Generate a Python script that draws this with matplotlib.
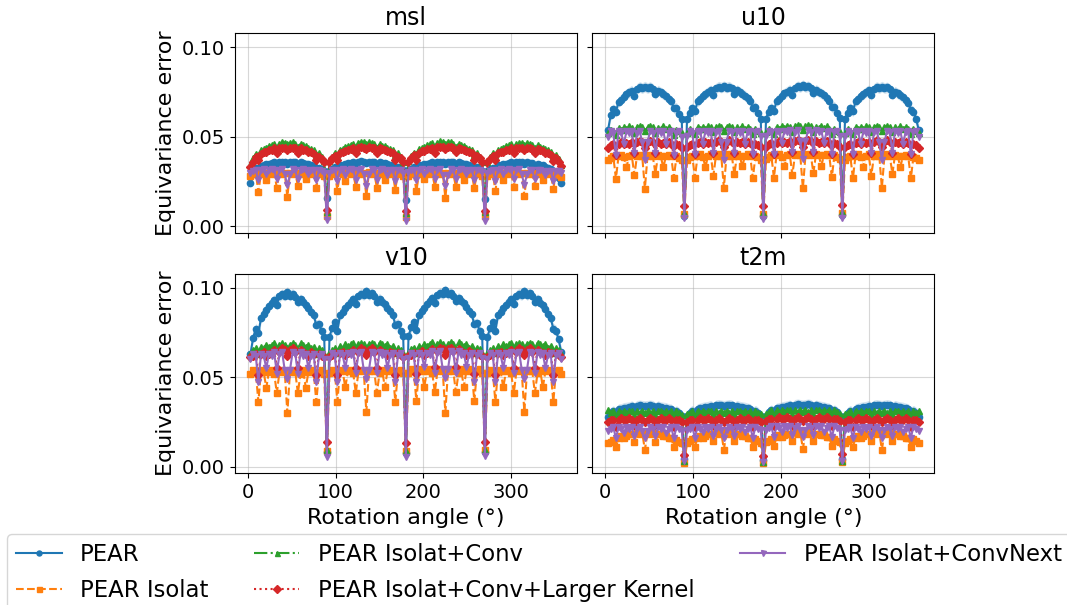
import numpy as np
import matplotlib.pyplot as plt

# rotation angles, 3 deg steps
angles = list(range(3, 360, 3))

labels = ["PEAR", "PEAR Isolat", "PEAR Isolat+Conv",
          "PEAR Isolat+Conv+Larger Kernel", "PEAR Isolat+ConvNext"]
variables = ["msl", "u10", "v10", "t2m"]

# ---- msl ----
msl_pear = [
    0.0240, 0.0290, 0.0325, 0.0318, 0.0338, 0.0342, 0.0348, 0.0350, 0.0352, 0.0360, 0.0340, 0.0360, 0.0362, 0.0360, 0.0350,
    0.0360, 0.0362, 0.0358, 0.0340, 0.0358, 0.0352, 0.0350, 0.0348, 0.0340, 0.0338, 0.0320, 0.0328, 0.0320, 0.0310,
    0.0160,
    0.0310, 0.0322, 0.0332, 0.0318, 0.0342, 0.0345, 0.0350, 0.0352, 0.0355, 0.0362, 0.0338, 0.0362, 0.0365, 0.0362, 0.0352,
    0.0362, 0.0360, 0.0358, 0.0342, 0.0360, 0.0355, 0.0352, 0.0348, 0.0342, 0.0340, 0.0322, 0.0332, 0.0322, 0.0312,
    0.0150,
    0.0312, 0.0320, 0.0330, 0.0322, 0.0340, 0.0342, 0.0348, 0.0350, 0.0355, 0.0358, 0.0340, 0.0360, 0.0362, 0.0360, 0.0350,
    0.0360, 0.0362, 0.0358, 0.0340, 0.0358, 0.0352, 0.0350, 0.0348, 0.0340, 0.0338, 0.0320, 0.0330, 0.0320, 0.0310,
    0.0155,
    0.0310, 0.0320, 0.0328, 0.0320, 0.0340, 0.0342, 0.0350, 0.0350, 0.0352, 0.0360, 0.0338, 0.0358, 0.0362, 0.0360, 0.0348,
    0.0358, 0.0356, 0.0352, 0.0336, 0.0350, 0.0344, 0.0340, 0.0334, 0.0326, 0.0318, 0.0300, 0.0292, 0.0272, 0.0240,
]
msl_isolat = [
    0.0280, 0.0290, 0.0300, 0.0192, 0.0300, 0.0292, 0.0260, 0.0300, 0.0292, 0.0300, 0.0217, 0.0300, 0.0292, 0.0300, 0.0164,
    0.0300, 0.0292, 0.0300, 0.0226, 0.0300, 0.0292, 0.0262, 0.0300, 0.0292, 0.0300, 0.0217, 0.0300, 0.0290, 0.0280,
    0.0060,
    0.0282, 0.0292, 0.0302, 0.0200, 0.0298, 0.0290, 0.0255, 0.0302, 0.0295, 0.0298, 0.0220, 0.0302, 0.0290, 0.0298, 0.0170,
    0.0302, 0.0295, 0.0300, 0.0215, 0.0298, 0.0292, 0.0258, 0.0302, 0.0290, 0.0298, 0.0205, 0.0300, 0.0292, 0.0282,
    0.0055,
    0.0280, 0.0290, 0.0300, 0.0195, 0.0300, 0.0292, 0.0262, 0.0300, 0.0290, 0.0300, 0.0222, 0.0300, 0.0292, 0.0300, 0.0160,
    0.0300, 0.0292, 0.0298, 0.0220, 0.0300, 0.0290, 0.0260, 0.0300, 0.0292, 0.0300, 0.0212, 0.0300, 0.0290, 0.0280,
    0.0060,
    0.0280, 0.0292, 0.0300, 0.0198, 0.0300, 0.0290, 0.0258, 0.0300, 0.0292, 0.0298, 0.0218, 0.0300, 0.0290, 0.0300, 0.0168,
    0.0300, 0.0292, 0.0300, 0.0224, 0.0300, 0.0292, 0.0260, 0.0298, 0.0290, 0.0300, 0.0210, 0.0298, 0.0288, 0.0278,
]
msl_conv = [
    0.0340, 0.0380, 0.0405, 0.0395, 0.0425, 0.0430, 0.0440, 0.0448, 0.0452, 0.0460, 0.0440, 0.0462, 0.0470, 0.0468, 0.0458,
    0.0468, 0.0470, 0.0462, 0.0442, 0.0460, 0.0452, 0.0448, 0.0440, 0.0430, 0.0428, 0.0400, 0.0410, 0.0390, 0.0365,
    0.0080,
    0.0365, 0.0390, 0.0410, 0.0400, 0.0428, 0.0432, 0.0442, 0.0450, 0.0455, 0.0462, 0.0442, 0.0465, 0.0472, 0.0470, 0.0460,
    0.0470, 0.0468, 0.0460, 0.0440, 0.0458, 0.0450, 0.0448, 0.0438, 0.0430, 0.0425, 0.0398, 0.0408, 0.0388, 0.0362,
    0.0075,
    0.0365, 0.0392, 0.0412, 0.0402, 0.0430, 0.0435, 0.0445, 0.0452, 0.0458, 0.0465, 0.0445, 0.0468, 0.0475, 0.0472, 0.0462,
    0.0472, 0.0470, 0.0462, 0.0442, 0.0460, 0.0452, 0.0450, 0.0440, 0.0432, 0.0428, 0.0400, 0.0410, 0.0390, 0.0365,
    0.0078,
    0.0362, 0.0388, 0.0408, 0.0398, 0.0425, 0.0430, 0.0440, 0.0448, 0.0452, 0.0460, 0.0440, 0.0462, 0.0468, 0.0465, 0.0455,
    0.0465, 0.0462, 0.0455, 0.0438, 0.0452, 0.0445, 0.0440, 0.0432, 0.0425, 0.0418, 0.0392, 0.0398, 0.0375, 0.0340,
]
msl_kernel = [
    0.0330, 0.0360, 0.0385, 0.0368, 0.0405, 0.0415, 0.0418, 0.0425, 0.0428, 0.0435, 0.0408, 0.0438, 0.0440, 0.0438, 0.0428,
    0.0440, 0.0438, 0.0435, 0.0410, 0.0435, 0.0428, 0.0425, 0.0418, 0.0415, 0.0405, 0.0372, 0.0390, 0.0378, 0.0360,
    0.0090,
    0.0360, 0.0380, 0.0395, 0.0370, 0.0410, 0.0418, 0.0420, 0.0428, 0.0430, 0.0438, 0.0410, 0.0440, 0.0442, 0.0440, 0.0430,
    0.0442, 0.0440, 0.0436, 0.0412, 0.0436, 0.0430, 0.0426, 0.0420, 0.0416, 0.0408, 0.0370, 0.0390, 0.0380, 0.0360,
    0.0085,
    0.0362, 0.0382, 0.0398, 0.0372, 0.0412, 0.0420, 0.0422, 0.0430, 0.0432, 0.0440, 0.0412, 0.0442, 0.0445, 0.0442, 0.0432,
    0.0445, 0.0442, 0.0438, 0.0414, 0.0438, 0.0432, 0.0428, 0.0422, 0.0418, 0.0410, 0.0372, 0.0392, 0.0382, 0.0362,
    0.0088,
    0.0360, 0.0378, 0.0395, 0.0370, 0.0408, 0.0415, 0.0418, 0.0425, 0.0428, 0.0435, 0.0408, 0.0436, 0.0440, 0.0436, 0.0426,
    0.0438, 0.0435, 0.0430, 0.0408, 0.0430, 0.0424, 0.0420, 0.0412, 0.0408, 0.0400, 0.0365, 0.0380, 0.0362, 0.0335,
]
msl_convnext = [
    0.0300, 0.0310, 0.0312, 0.0258, 0.0312, 0.0318, 0.0290, 0.0312, 0.0318, 0.0312, 0.0262, 0.0312, 0.0318, 0.0290, 0.0230,
    0.0290, 0.0318, 0.0312, 0.0262, 0.0312, 0.0318, 0.0312, 0.0290, 0.0312, 0.0312, 0.0258, 0.0312, 0.0310, 0.0300,
    0.0035,
    0.0300, 0.0312, 0.0315, 0.0255, 0.0312, 0.0320, 0.0288, 0.0315, 0.0320, 0.0312, 0.0260, 0.0315, 0.0320, 0.0292, 0.0225,
    0.0292, 0.0320, 0.0315, 0.0260, 0.0315, 0.0320, 0.0312, 0.0288, 0.0315, 0.0312, 0.0255, 0.0315, 0.0312, 0.0300,
    0.0030,
    0.0302, 0.0312, 0.0312, 0.0260, 0.0315, 0.0318, 0.0292, 0.0312, 0.0320, 0.0315, 0.0265, 0.0312, 0.0318, 0.0288, 0.0228,
    0.0288, 0.0318, 0.0312, 0.0265, 0.0312, 0.0318, 0.0315, 0.0292, 0.0312, 0.0315, 0.0260, 0.0312, 0.0312, 0.0302,
    0.0032,
    0.0300, 0.0310, 0.0312, 0.0256, 0.0312, 0.0318, 0.0290, 0.0312, 0.0318, 0.0312, 0.0262, 0.0312, 0.0318, 0.0290, 0.0232,
    0.0290, 0.0316, 0.0312, 0.0262, 0.0312, 0.0316, 0.0310, 0.0288, 0.0310, 0.0310, 0.0256, 0.0310, 0.0308, 0.0298,
]

# ---- u10 ----
u10_pear = [
    0.0537, 0.0620, 0.0655, 0.0640, 0.0695, 0.0708, 0.0725, 0.0738, 0.0748, 0.0758, 0.0730, 0.0768, 0.0778, 0.0772, 0.0780,
    0.0772, 0.0778, 0.0768, 0.0738, 0.0758, 0.0748, 0.0738, 0.0728, 0.0712, 0.0698, 0.0660, 0.0662, 0.0630, 0.0600,
    0.0060,
    0.0600, 0.0635, 0.0660, 0.0642, 0.0698, 0.0710, 0.0728, 0.0740, 0.0750, 0.0760, 0.0732, 0.0770, 0.0780, 0.0775, 0.0782,
    0.0775, 0.0780, 0.0770, 0.0740, 0.0760, 0.0750, 0.0740, 0.0730, 0.0715, 0.0700, 0.0662, 0.0665, 0.0632, 0.0602,
    0.0058,
    0.0602, 0.0638, 0.0662, 0.0645, 0.0700, 0.0712, 0.0730, 0.0742, 0.0752, 0.0762, 0.0735, 0.0772, 0.0782, 0.0778, 0.0788,
    0.0778, 0.0782, 0.0772, 0.0742, 0.0762, 0.0752, 0.0742, 0.0732, 0.0718, 0.0702, 0.0665, 0.0668, 0.0635, 0.0605,
    0.0062,
    0.0600, 0.0635, 0.0660, 0.0642, 0.0698, 0.0710, 0.0726, 0.0738, 0.0750, 0.0760, 0.0732, 0.0768, 0.0778, 0.0772, 0.0780,
    0.0772, 0.0776, 0.0766, 0.0736, 0.0752, 0.0742, 0.0732, 0.0720, 0.0705, 0.0690, 0.0650, 0.0640, 0.0600, 0.0537,
]
u10_isolat = [
    0.0370, 0.0382, 0.0392, 0.0267, 0.0392, 0.0400, 0.0385, 0.0330, 0.0392, 0.0400, 0.0285, 0.0392, 0.0400, 0.0392, 0.0210,
    0.0392, 0.0400, 0.0392, 0.0295, 0.0400, 0.0392, 0.0330, 0.0392, 0.0400, 0.0392, 0.0270, 0.0392, 0.0382, 0.0372,
    0.0070,
    0.0372, 0.0385, 0.0395, 0.0270, 0.0395, 0.0402, 0.0388, 0.0332, 0.0395, 0.0402, 0.0282, 0.0395, 0.0402, 0.0395, 0.0215,
    0.0395, 0.0402, 0.0395, 0.0290, 0.0402, 0.0395, 0.0335, 0.0395, 0.0402, 0.0395, 0.0268, 0.0395, 0.0385, 0.0372,
    0.0068,
    0.0375, 0.0388, 0.0398, 0.0272, 0.0398, 0.0405, 0.0390, 0.0335, 0.0398, 0.0405, 0.0288, 0.0398, 0.0405, 0.0398, 0.0212,
    0.0398, 0.0405, 0.0398, 0.0298, 0.0405, 0.0398, 0.0338, 0.0398, 0.0405, 0.0398, 0.0275, 0.0398, 0.0388, 0.0375,
    0.0072,
    0.0372, 0.0385, 0.0395, 0.0268, 0.0395, 0.0402, 0.0386, 0.0330, 0.0395, 0.0402, 0.0284, 0.0395, 0.0402, 0.0395, 0.0215,
    0.0395, 0.0402, 0.0395, 0.0292, 0.0400, 0.0392, 0.0332, 0.0392, 0.0400, 0.0392, 0.0268, 0.0390, 0.0380, 0.0370,
]
u10_conv = [
    0.0520, 0.0540, 0.0530, 0.0512, 0.0550, 0.0540, 0.0552, 0.0542, 0.0558, 0.0550, 0.0522, 0.0552, 0.0560, 0.0552, 0.0532,
    0.0552, 0.0560, 0.0552, 0.0522, 0.0550, 0.0542, 0.0558, 0.0542, 0.0552, 0.0540, 0.0512, 0.0540, 0.0530, 0.0520,
    0.0075,
    0.0522, 0.0542, 0.0532, 0.0515, 0.0552, 0.0542, 0.0555, 0.0545, 0.0560, 0.0552, 0.0525, 0.0555, 0.0562, 0.0555, 0.0535,
    0.0555, 0.0562, 0.0555, 0.0525, 0.0552, 0.0545, 0.0560, 0.0545, 0.0555, 0.0542, 0.0515, 0.0542, 0.0532, 0.0522,
    0.0072,
    0.0525, 0.0545, 0.0535, 0.0518, 0.0555, 0.0545, 0.0558, 0.0548, 0.0562, 0.0555, 0.0528, 0.0558, 0.0565, 0.0558, 0.0538,
    0.0558, 0.0565, 0.0558, 0.0528, 0.0555, 0.0548, 0.0562, 0.0548, 0.0558, 0.0545, 0.0518, 0.0545, 0.0535, 0.0525,
    0.0078,
    0.0522, 0.0542, 0.0532, 0.0515, 0.0552, 0.0542, 0.0555, 0.0545, 0.0560, 0.0552, 0.0525, 0.0555, 0.0562, 0.0555, 0.0535,
    0.0555, 0.0562, 0.0555, 0.0525, 0.0552, 0.0545, 0.0560, 0.0545, 0.0555, 0.0542, 0.0515, 0.0542, 0.0532, 0.0522,
]
u10_kernel = [
    0.0440, 0.0452, 0.0460, 0.0400, 0.0462, 0.0470, 0.0460, 0.0468, 0.0462, 0.0470, 0.0410, 0.0470, 0.0478, 0.0470, 0.0440,
    0.0470, 0.0478, 0.0470, 0.0410, 0.0470, 0.0462, 0.0468, 0.0460, 0.0470, 0.0462, 0.0400, 0.0460, 0.0452, 0.0440,
    0.0115,
    0.0442, 0.0455, 0.0462, 0.0402, 0.0465, 0.0472, 0.0462, 0.0470, 0.0465, 0.0472, 0.0412, 0.0472, 0.0480, 0.0472, 0.0442,
    0.0472, 0.0480, 0.0472, 0.0412, 0.0472, 0.0465, 0.0470, 0.0462, 0.0472, 0.0465, 0.0402, 0.0462, 0.0455, 0.0442,
    0.0112,
    0.0445, 0.0458, 0.0465, 0.0405, 0.0468, 0.0475, 0.0465, 0.0472, 0.0468, 0.0475, 0.0415, 0.0475, 0.0482, 0.0475, 0.0445,
    0.0475, 0.0482, 0.0475, 0.0415, 0.0475, 0.0468, 0.0472, 0.0465, 0.0475, 0.0468, 0.0405, 0.0465, 0.0458, 0.0445,
    0.0118,
    0.0442, 0.0455, 0.0462, 0.0402, 0.0465, 0.0472, 0.0462, 0.0470, 0.0465, 0.0472, 0.0412, 0.0472, 0.0480, 0.0472, 0.0442,
    0.0472, 0.0480, 0.0472, 0.0412, 0.0472, 0.0465, 0.0470, 0.0462, 0.0472, 0.0465, 0.0402, 0.0462, 0.0455, 0.0440,
]
u10_convnext = [
    0.0500, 0.0530, 0.0520, 0.0400, 0.0530, 0.0522, 0.0460, 0.0530, 0.0520, 0.0532, 0.0410, 0.0522, 0.0532, 0.0470, 0.0370,
    0.0470, 0.0532, 0.0522, 0.0410, 0.0532, 0.0520, 0.0530, 0.0460, 0.0522, 0.0530, 0.0400, 0.0522, 0.0530, 0.0500,
    0.0045,
    0.0502, 0.0532, 0.0522, 0.0402, 0.0532, 0.0525, 0.0462, 0.0532, 0.0522, 0.0535, 0.0412, 0.0525, 0.0535, 0.0472, 0.0372,
    0.0472, 0.0535, 0.0525, 0.0412, 0.0535, 0.0522, 0.0532, 0.0462, 0.0525, 0.0532, 0.0402, 0.0525, 0.0532, 0.0502,
    0.0042,
    0.0505, 0.0535, 0.0525, 0.0405, 0.0535, 0.0528, 0.0465, 0.0535, 0.0525, 0.0538, 0.0415, 0.0528, 0.0538, 0.0475, 0.0375,
    0.0475, 0.0538, 0.0528, 0.0415, 0.0538, 0.0525, 0.0535, 0.0465, 0.0528, 0.0535, 0.0405, 0.0528, 0.0535, 0.0505,
    0.0048,
    0.0502, 0.0532, 0.0522, 0.0402, 0.0532, 0.0525, 0.0462, 0.0532, 0.0522, 0.0535, 0.0412, 0.0525, 0.0535, 0.0472, 0.0372,
    0.0472, 0.0535, 0.0525, 0.0412, 0.0535, 0.0522, 0.0532, 0.0462, 0.0525, 0.0532, 0.0402, 0.0525, 0.0532, 0.0500,
]

# ---- v10 ----
v10_pear = [
    0.0630, 0.0720, 0.0770, 0.0745, 0.0830, 0.0855, 0.0875, 0.0895, 0.0915, 0.0930, 0.0905, 0.0950, 0.0962, 0.0955, 0.0975,
    0.0955, 0.0965, 0.0948, 0.0920, 0.0935, 0.0918, 0.0905, 0.0885, 0.0865, 0.0845, 0.0790, 0.0795, 0.0755, 0.0725,
    0.0080,
    0.0725, 0.0775, 0.0805, 0.0760, 0.0845, 0.0865, 0.0885, 0.0905, 0.0922, 0.0935, 0.0910, 0.0955, 0.0965, 0.0958, 0.0978,
    0.0958, 0.0968, 0.0950, 0.0922, 0.0938, 0.0920, 0.0908, 0.0888, 0.0868, 0.0848, 0.0792, 0.0798, 0.0758, 0.0728,
    0.0078,
    0.0728, 0.0778, 0.0808, 0.0762, 0.0848, 0.0868, 0.0888, 0.0908, 0.0925, 0.0940, 0.0912, 0.0958, 0.0970, 0.0962, 0.0985,
    0.0962, 0.0972, 0.0955, 0.0925, 0.0942, 0.0925, 0.0912, 0.0892, 0.0870, 0.0850, 0.0795, 0.0800, 0.0760, 0.0730,
    0.0082,
    0.0725, 0.0775, 0.0805, 0.0760, 0.0845, 0.0865, 0.0885, 0.0905, 0.0922, 0.0935, 0.0910, 0.0955, 0.0965, 0.0958, 0.0978,
    0.0958, 0.0968, 0.0950, 0.0920, 0.0935, 0.0915, 0.0900, 0.0878, 0.0855, 0.0830, 0.0770, 0.0760, 0.0710, 0.0640,
]
v10_isolat = [
    0.0520, 0.0540, 0.0530, 0.0360, 0.0540, 0.0530, 0.0440, 0.0530, 0.0540, 0.0520, 0.0410, 0.0530, 0.0540, 0.0530, 0.0300,
    0.0530, 0.0540, 0.0530, 0.0410, 0.0520, 0.0540, 0.0440, 0.0530, 0.0540, 0.0530, 0.0360, 0.0530, 0.0540, 0.0520,
    0.0090,
    0.0522, 0.0542, 0.0532, 0.0362, 0.0542, 0.0532, 0.0442, 0.0532, 0.0542, 0.0522, 0.0412, 0.0532, 0.0542, 0.0532, 0.0305,
    0.0532, 0.0542, 0.0532, 0.0412, 0.0522, 0.0542, 0.0442, 0.0532, 0.0542, 0.0532, 0.0362, 0.0532, 0.0542, 0.0522,
    0.0088,
    0.0525, 0.0545, 0.0535, 0.0365, 0.0545, 0.0535, 0.0445, 0.0535, 0.0545, 0.0525, 0.0415, 0.0535, 0.0545, 0.0535, 0.0302,
    0.0535, 0.0545, 0.0535, 0.0415, 0.0525, 0.0545, 0.0445, 0.0535, 0.0545, 0.0535, 0.0365, 0.0535, 0.0545, 0.0525,
    0.0092,
    0.0522, 0.0542, 0.0532, 0.0362, 0.0542, 0.0532, 0.0442, 0.0532, 0.0542, 0.0522, 0.0412, 0.0532, 0.0542, 0.0532, 0.0305,
    0.0532, 0.0542, 0.0532, 0.0412, 0.0522, 0.0542, 0.0442, 0.0532, 0.0542, 0.0532, 0.0362, 0.0532, 0.0542, 0.0520,
]
v10_conv = [
    0.0630, 0.0650, 0.0660, 0.0630, 0.0670, 0.0660, 0.0680, 0.0670, 0.0680, 0.0690, 0.0650, 0.0680, 0.0690, 0.0680, 0.0660,
    0.0680, 0.0690, 0.0680, 0.0650, 0.0690, 0.0680, 0.0670, 0.0680, 0.0660, 0.0670, 0.0630, 0.0660, 0.0650, 0.0630,
    0.0092,
    0.0632, 0.0652, 0.0662, 0.0632, 0.0672, 0.0662, 0.0682, 0.0672, 0.0682, 0.0692, 0.0652, 0.0682, 0.0692, 0.0682, 0.0662,
    0.0682, 0.0692, 0.0682, 0.0652, 0.0692, 0.0682, 0.0672, 0.0682, 0.0662, 0.0672, 0.0632, 0.0662, 0.0652, 0.0632,
    0.0090,
    0.0635, 0.0655, 0.0665, 0.0635, 0.0675, 0.0665, 0.0685, 0.0675, 0.0685, 0.0695, 0.0655, 0.0685, 0.0695, 0.0685, 0.0665,
    0.0685, 0.0695, 0.0685, 0.0655, 0.0695, 0.0685, 0.0675, 0.0685, 0.0665, 0.0675, 0.0635, 0.0665, 0.0655, 0.0635,
    0.0094,
    0.0632, 0.0652, 0.0662, 0.0632, 0.0672, 0.0662, 0.0682, 0.0672, 0.0682, 0.0692, 0.0652, 0.0682, 0.0692, 0.0682, 0.0662,
    0.0682, 0.0692, 0.0682, 0.0652, 0.0692, 0.0682, 0.0672, 0.0682, 0.0662, 0.0672, 0.0632, 0.0662, 0.0652, 0.0630,
]
v10_kernel = [
    0.0610, 0.0620, 0.0630, 0.0510, 0.0630, 0.0640, 0.0620, 0.0630, 0.0640, 0.0650, 0.0550, 0.0640, 0.0660, 0.0650, 0.0620,
    0.0650, 0.0660, 0.0640, 0.0550, 0.0650, 0.0640, 0.0630, 0.0620, 0.0640, 0.0630, 0.0510, 0.0630, 0.0620, 0.0610,
    0.0135,
    0.0612, 0.0622, 0.0632, 0.0512, 0.0632, 0.0642, 0.0622, 0.0632, 0.0642, 0.0652, 0.0552, 0.0642, 0.0662, 0.0652, 0.0622,
    0.0652, 0.0662, 0.0642, 0.0552, 0.0652, 0.0642, 0.0632, 0.0622, 0.0642, 0.0632, 0.0512, 0.0632, 0.0622, 0.0612,
    0.0130,
    0.0615, 0.0625, 0.0635, 0.0515, 0.0635, 0.0645, 0.0625, 0.0635, 0.0645, 0.0655, 0.0555, 0.0645, 0.0665, 0.0655, 0.0625,
    0.0655, 0.0665, 0.0645, 0.0555, 0.0655, 0.0645, 0.0635, 0.0625, 0.0645, 0.0635, 0.0515, 0.0635, 0.0625, 0.0615,
    0.0140,
    0.0612, 0.0622, 0.0632, 0.0512, 0.0632, 0.0642, 0.0622, 0.0632, 0.0642, 0.0652, 0.0552, 0.0642, 0.0662, 0.0652, 0.0622,
    0.0652, 0.0662, 0.0642, 0.0552, 0.0652, 0.0642, 0.0632, 0.0622, 0.0642, 0.0632, 0.0512, 0.0632, 0.0622, 0.0610,
]
v10_convnext = [
    0.0600, 0.0630, 0.0620, 0.0470, 0.0630, 0.0620, 0.0550, 0.0630, 0.0620, 0.0640, 0.0520, 0.0630, 0.0640, 0.0540, 0.0490,
    0.0540, 0.0640, 0.0630, 0.0520, 0.0640, 0.0620, 0.0630, 0.0550, 0.0620, 0.0630, 0.0470, 0.0620, 0.0630, 0.0600,
    0.0055,
    0.0602, 0.0632, 0.0622, 0.0472, 0.0632, 0.0622, 0.0552, 0.0632, 0.0622, 0.0642, 0.0522, 0.0632, 0.0642, 0.0542, 0.0492,
    0.0542, 0.0642, 0.0632, 0.0522, 0.0642, 0.0622, 0.0632, 0.0552, 0.0622, 0.0632, 0.0472, 0.0622, 0.0632, 0.0602,
    0.0052,
    0.0605, 0.0635, 0.0625, 0.0475, 0.0635, 0.0625, 0.0555, 0.0635, 0.0625, 0.0645, 0.0525, 0.0635, 0.0645, 0.0545, 0.0495,
    0.0545, 0.0645, 0.0635, 0.0525, 0.0645, 0.0625, 0.0635, 0.0555, 0.0625, 0.0635, 0.0475, 0.0625, 0.0635, 0.0605,
    0.0058,
    0.0602, 0.0632, 0.0622, 0.0472, 0.0632, 0.0622, 0.0552, 0.0632, 0.0622, 0.0642, 0.0522, 0.0632, 0.0642, 0.0542, 0.0492,
    0.0542, 0.0642, 0.0632, 0.0522, 0.0642, 0.0622, 0.0632, 0.0552, 0.0622, 0.0632, 0.0472, 0.0622, 0.0632, 0.0600,
]

# ---- t2m ----
t2m_pear = [
    0.0280, 0.0300, 0.0310, 0.0300, 0.0320, 0.0322, 0.0328, 0.0330, 0.0332, 0.0338, 0.0328, 0.0340, 0.0342, 0.0340, 0.0338,
    0.0340, 0.0342, 0.0340, 0.0328, 0.0338, 0.0332, 0.0330, 0.0328, 0.0322, 0.0320, 0.0300, 0.0310, 0.0300, 0.0282,
    0.0040,
    0.0282, 0.0302, 0.0312, 0.0302, 0.0322, 0.0325, 0.0330, 0.0332, 0.0335, 0.0340, 0.0330, 0.0342, 0.0345, 0.0342, 0.0340,
    0.0342, 0.0345, 0.0342, 0.0330, 0.0340, 0.0335, 0.0332, 0.0330, 0.0325, 0.0322, 0.0302, 0.0312, 0.0302, 0.0282,
    0.0038,
    0.0285, 0.0305, 0.0315, 0.0305, 0.0325, 0.0328, 0.0332, 0.0335, 0.0338, 0.0342, 0.0332, 0.0345, 0.0348, 0.0345, 0.0342,
    0.0345, 0.0348, 0.0345, 0.0332, 0.0342, 0.0338, 0.0335, 0.0332, 0.0328, 0.0325, 0.0305, 0.0315, 0.0305, 0.0285,
    0.0042,
    0.0282, 0.0302, 0.0312, 0.0302, 0.0322, 0.0325, 0.0330, 0.0332, 0.0335, 0.0340, 0.0330, 0.0342, 0.0345, 0.0342, 0.0340,
    0.0342, 0.0345, 0.0342, 0.0330, 0.0340, 0.0335, 0.0332, 0.0330, 0.0325, 0.0322, 0.0302, 0.0312, 0.0302, 0.0280,
]
t2m_isolat = [
    0.0130, 0.0140, 0.0150, 0.0110, 0.0160, 0.0170, 0.0160, 0.0170, 0.0180, 0.0180, 0.0140, 0.0190, 0.0180, 0.0190, 0.0093,
    0.0190, 0.0180, 0.0190, 0.0140, 0.0180, 0.0180, 0.0170, 0.0170, 0.0160, 0.0160, 0.0110, 0.0150, 0.0140, 0.0130,
    0.0022,
    0.0132, 0.0142, 0.0152, 0.0112, 0.0162, 0.0172, 0.0162, 0.0172, 0.0182, 0.0182, 0.0142, 0.0192, 0.0182, 0.0192, 0.0095,
    0.0192, 0.0182, 0.0192, 0.0142, 0.0182, 0.0182, 0.0172, 0.0172, 0.0162, 0.0162, 0.0112, 0.0152, 0.0142, 0.0132,
    0.0020,
    0.0135, 0.0145, 0.0155, 0.0115, 0.0165, 0.0175, 0.0165, 0.0175, 0.0185, 0.0185, 0.0145, 0.0195, 0.0185, 0.0195, 0.0098,
    0.0195, 0.0185, 0.0195, 0.0145, 0.0185, 0.0185, 0.0175, 0.0175, 0.0165, 0.0165, 0.0115, 0.0155, 0.0145, 0.0135,
    0.0024,
    0.0132, 0.0142, 0.0152, 0.0112, 0.0162, 0.0172, 0.0162, 0.0172, 0.0182, 0.0182, 0.0142, 0.0192, 0.0182, 0.0192, 0.0095,
    0.0192, 0.0182, 0.0192, 0.0142, 0.0182, 0.0182, 0.0172, 0.0172, 0.0162, 0.0162, 0.0112, 0.0152, 0.0142, 0.0130,
]
t2m_conv = [
    0.0315, 0.0300, 0.0310, 0.0280, 0.0310, 0.0300, 0.0310, 0.0300, 0.0310, 0.0310, 0.0290, 0.0310, 0.0300, 0.0310, 0.0300,
    0.0310, 0.0300, 0.0310, 0.0290, 0.0310, 0.0310, 0.0300, 0.0310, 0.0300, 0.0310, 0.0280, 0.0310, 0.0300, 0.0290,
    0.0030,
    0.0292, 0.0302, 0.0312, 0.0282, 0.0312, 0.0302, 0.0312, 0.0302, 0.0312, 0.0312, 0.0292, 0.0312, 0.0302, 0.0312, 0.0302,
    0.0312, 0.0302, 0.0312, 0.0292, 0.0312, 0.0312, 0.0302, 0.0312, 0.0302, 0.0312, 0.0282, 0.0312, 0.0302, 0.0292,
    0.0028,
    0.0295, 0.0305, 0.0315, 0.0285, 0.0315, 0.0305, 0.0315, 0.0305, 0.0315, 0.0315, 0.0295, 0.0315, 0.0305, 0.0315, 0.0305,
    0.0315, 0.0305, 0.0315, 0.0295, 0.0315, 0.0315, 0.0305, 0.0315, 0.0305, 0.0315, 0.0285, 0.0315, 0.0305, 0.0295,
    0.0032,
    0.0292, 0.0302, 0.0312, 0.0282, 0.0312, 0.0302, 0.0312, 0.0302, 0.0312, 0.0312, 0.0292, 0.0312, 0.0302, 0.0312, 0.0302,
    0.0312, 0.0302, 0.0312, 0.0292, 0.0312, 0.0312, 0.0302, 0.0312, 0.0302, 0.0312, 0.0282, 0.0312, 0.0302, 0.0312,
]
t2m_kernel = [
    0.0250, 0.0260, 0.0260, 0.0220, 0.0260, 0.0270, 0.0260, 0.0260, 0.0270, 0.0260, 0.0230, 0.0260, 0.0270, 0.0260, 0.0250,
    0.0260, 0.0270, 0.0260, 0.0230, 0.0260, 0.0270, 0.0260, 0.0260, 0.0270, 0.0260, 0.0220, 0.0260, 0.0260, 0.0250,
    0.0065,
    0.0252, 0.0262, 0.0262, 0.0222, 0.0262, 0.0272, 0.0262, 0.0262, 0.0272, 0.0262, 0.0232, 0.0262, 0.0272, 0.0262, 0.0252,
    0.0262, 0.0272, 0.0262, 0.0232, 0.0262, 0.0272, 0.0262, 0.0262, 0.0272, 0.0262, 0.0222, 0.0262, 0.0262, 0.0252,
    0.0062,
    0.0255, 0.0265, 0.0265, 0.0225, 0.0265, 0.0275, 0.0265, 0.0265, 0.0275, 0.0265, 0.0235, 0.0265, 0.0275, 0.0265, 0.0255,
    0.0265, 0.0275, 0.0265, 0.0235, 0.0265, 0.0275, 0.0265, 0.0265, 0.0275, 0.0265, 0.0225, 0.0265, 0.0265, 0.0255,
    0.0068,
    0.0252, 0.0262, 0.0262, 0.0222, 0.0262, 0.0272, 0.0262, 0.0262, 0.0272, 0.0262, 0.0232, 0.0262, 0.0272, 0.0262, 0.0252,
    0.0262, 0.0272, 0.0262, 0.0232, 0.0262, 0.0272, 0.0262, 0.0262, 0.0272, 0.0262, 0.0222, 0.0262, 0.0262, 0.0250,
]
t2m_convnext = [
    0.0200, 0.0210, 0.0220, 0.0160, 0.0220, 0.0210, 0.0190, 0.0220, 0.0210, 0.0220, 0.0170, 0.0210, 0.0220, 0.0200, 0.0160,
    0.0200, 0.0220, 0.0210, 0.0170, 0.0220, 0.0210, 0.0220, 0.0190, 0.0210, 0.0220, 0.0160, 0.0220, 0.0210, 0.0200,
    0.0030,
    0.0202, 0.0212, 0.0222, 0.0162, 0.0222, 0.0212, 0.0192, 0.0222, 0.0212, 0.0222, 0.0172, 0.0212, 0.0222, 0.0202, 0.0162,
    0.0202, 0.0222, 0.0212, 0.0172, 0.0222, 0.0212, 0.0222, 0.0192, 0.0212, 0.0222, 0.0162, 0.0222, 0.0212, 0.0202,
    0.0028,
    0.0205, 0.0215, 0.0225, 0.0165, 0.0225, 0.0215, 0.0195, 0.0225, 0.0215, 0.0225, 0.0175, 0.0215, 0.0225, 0.0205, 0.0165,
    0.0205, 0.0225, 0.0215, 0.0175, 0.0225, 0.0215, 0.0225, 0.0195, 0.0215, 0.0225, 0.0165, 0.0225, 0.0215, 0.0205,
    0.0032,
    0.0202, 0.0212, 0.0222, 0.0162, 0.0222, 0.0212, 0.0192, 0.0222, 0.0212, 0.0222, 0.0172, 0.0212, 0.0222, 0.0202, 0.0162,
    0.0202, 0.0222, 0.0212, 0.0172, 0.0222, 0.0212, 0.0222, 0.0192, 0.0212, 0.0222, 0.0162, 0.0222, 0.0212, 0.0200,
]

# std across runs (shaded band half-width), order follows labels
msl_std = [0.0015, 0.0008, 0.0010, 0.0008, 0.0008]
u10_std = [0.0030, 0.0010, 0.0010, 0.0010, 0.0010]
v10_std = [0.0030, 0.0010, 0.0010, 0.0010, 0.0010]
t2m_std = [0.0030, 0.0012, 0.0010, 0.0010, 0.0010]

results = {
    "msl": ([msl_pear, msl_isolat, msl_conv, msl_kernel, msl_convnext], msl_std),
    "u10": ([u10_pear, u10_isolat, u10_conv, u10_kernel, u10_convnext], u10_std),
    "v10": ([v10_pear, v10_isolat, v10_conv, v10_kernel, v10_convnext], v10_std),
    "t2m": ([t2m_pear, t2m_isolat, t2m_conv, t2m_kernel, t2m_convnext], t2m_std),
}

colors = ["C0", "C1", "C2", "C3", "C4"]
linestyles = ["-", "--", "-.", ":", "-"]
markers = ["o", "s", "^", "D", "v"]

fig, axes = plt.subplots(2, 2, figsize=(10.67, 6.05), dpi=100, sharex=True, sharey=True)
fig.subplots_adjust(left=0.2202, right=0.8756, top=0.945, bottom=0.2177,
                    wspace=0.046, hspace=0.203)

x = np.array(angles)
for ax, var in zip(axes.flat, variables):
    series, stds = results[var]
    for vals, sd, c, ls, mk, lab in zip(series, stds, colors, linestyles, markers, labels):
        y = np.array(vals)
        ax.plot(x, y, color=c, linestyle=ls, marker=mk, markersize=4.5, linewidth=1.5, label=lab)
        ax.fill_between(x, y - sd, y + sd, color=c, alpha=0.2, linewidth=0)
    ax.set_title(var, fontsize=17)
    ax.grid(True, alpha=0.5)
    ax.tick_params(labelsize=14)

axes[0, 0].set_ylim(-0.0037, 0.1078)
axes[0, 0].set_yticks([0.0, 0.05, 0.10])
for ax in axes[:, 0]:
    ax.set_ylabel("Equivariance error", fontsize=16)
for ax in axes[1, :]:
    ax.set_xlabel("Rotation angle (°)", fontsize=16)

handles, labs = axes[0, 0].get_legend_handles_labels()
fig.legend(handles, labs, loc="upper left", bbox_to_anchor=(0.0066, 0.1174),
           borderaxespad=0.0, labelspacing=0.55, markerscale=0.8,
           ncol=3, fontsize=16.4)

fig.savefig("out.png", dpi=100)
